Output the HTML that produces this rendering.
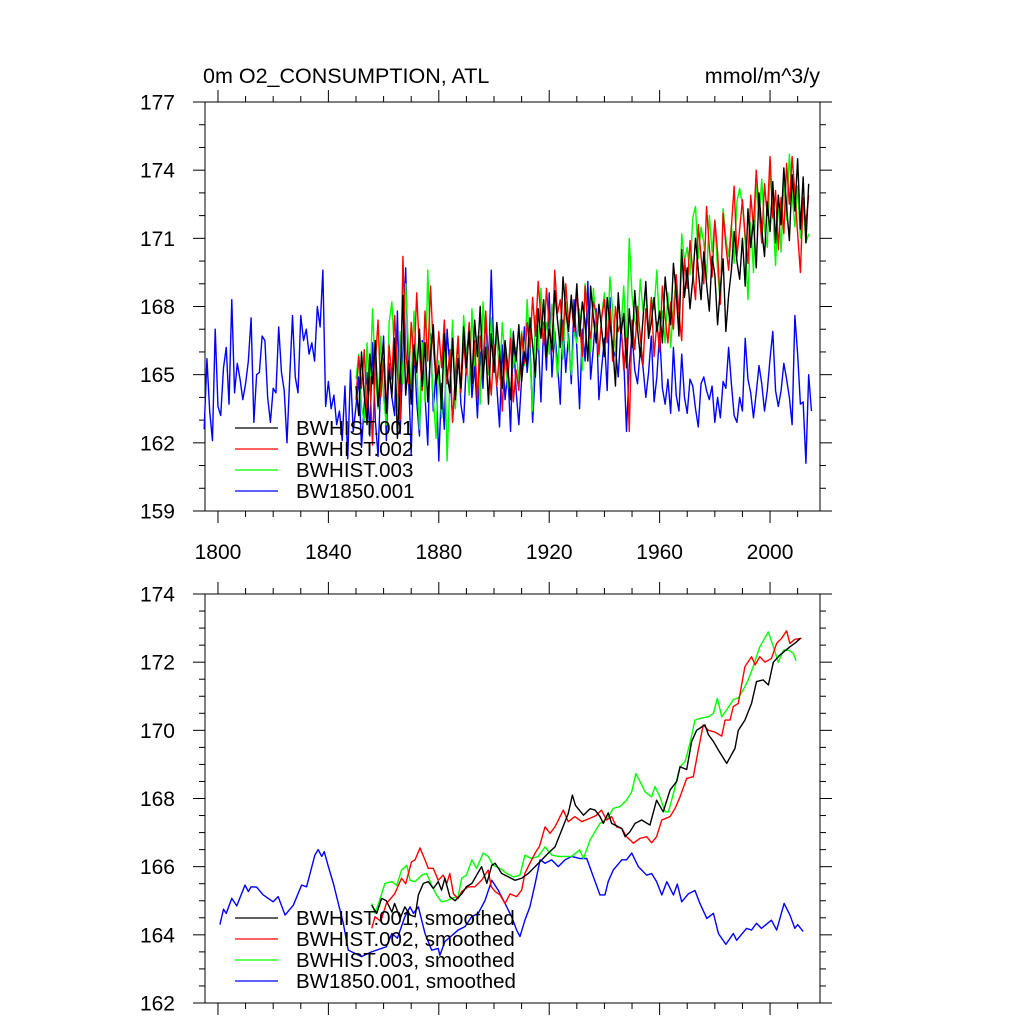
<!DOCTYPE html>
<html><head><meta charset="utf-8">
<style>
html,body{margin:0;padding:0;background:#fff;}
svg{display:block;font-family:"Liberation Sans",Arial,sans-serif;}
</style></head>
<body>
<svg id="chart" width="1024" height="1024" viewBox="0 0 1024 1024" xmlns="http://www.w3.org/2000/svg">
<rect width="1024" height="1024" fill="#fff"/>
<text x="203" y="83" font-size="21.5">0m O2_CONSUMPTION, ATL</text>
<text x="820" y="83" font-size="21.5" text-anchor="end">mmol/m^3/y</text>
<g id="top"></g>
<g id="bot"></g>
</svg>
<script>
// ---------- data ----------
const blueStart = 1795;
const blueRaw = [162.6,165.7,163.4,162.1,167.0,163.6,163.2,165.3,166.2,163.7,
168.3,164.2,165.5,164.8,163.9,164.6,165.6,167.5,162.9,165.0,
165.1,166.7,166.5,164.0,162.9,164.4,164.2,167.1,165.1,164.3,
162.0,164.9,167.6,164.9,164.2,167.6,166.5,167.0,165.9,166.4,
165.6,168.0,167.1,169.6,163.6,164.7,163.5,164.1,162.8,163.4,
162.1,164.5,161.3,165.2,162.5,163.6,164.9,161.8,163.7,165.1,
162.3,166.4,163.0,161.4,164.8,166.7,162.1,165.5,164.0,163.2,
167.8,162.4,165.9,169.7,165.0,161.5,166.2,163.8,162.3,166.5,
164.1,161.9,166.8,163.4,165.2,161.2,164.6,162.6,167.0,165.3,
163.0,164.8,166.4,163.7,162.9,165.6,167.2,164.0,165.4,163.1,
166.0,164.4,167.6,165.0,169.6,165.8,164.5,162.7,166.3,163.9,
165.2,162.5,166.9,164.3,162.8,164.8,167.1,165.1,166.5,162.9,
165.4,166.7,163.8,167.3,165.2,168.6,164.9,166.9,165.5,163.7,
167.4,165.1,166.8,164.6,168.3,166.2,163.5,167.0,165.6,169.1,
164.8,166.2,167.9,163.9,165.3,166.6,164.3,168.4,165.6,166.1,
164.9,167.0,165.7,162.5,165.4,166.8,165.2,164.6,166.1,165.3,
164.0,165.1,166.7,163.8,164.9,166.9,164.4,163.7,164.8,163.3,
166.2,164.1,163.4,165.9,164.0,163.3,164.8,164.5,163.5,162.7,
164.6,164.9,164.3,163.9,164.5,162.9,164.0,163.1,164.7,164.4,
166.2,164.6,163.2,162.9,164.0,163.4,166.6,164.8,164.2,163.1,
164.2,165.4,164.6,163.4,164.3,165.7,166.9,164.3,163.6,164.3,
165.5,164.8,164.0,162.8,167.6,165.9,163.7,163.8,161.1,165.0,
163.4];
const histStart = 1850;
const h001Raw = [164.5,163.2,166.0,164.1,162.8,165.9,164.6,166.5,163.6,165.3,
166.4,163.3,165.2,164.0,166.6,162.2,164.8,168.5,164.1,165.6,
163.7,166.3,165.1,167.0,164.5,166.4,163.8,165.9,167.2,164.6,
165.4,163.5,166.8,165.0,164.2,166.6,163.9,165.7,164.4,167.1,
165.3,166.9,164.6,167.4,165.8,168.0,164.9,166.2,163.7,166.8,
165.1,167.3,166.0,164.4,166.5,165.3,163.9,166.8,165.6,167.2,
164.7,166.0,165.4,167.5,166.3,164.9,167.9,166.6,168.3,165.8,
167.0,166.1,168.7,167.4,166.2,169.3,167.8,166.9,168.5,167.1,
169.0,166.7,168.2,167.3,165.6,168.9,167.5,166.4,168.1,167.0,
165.8,168.4,167.2,166.3,164.5,168.6,166.8,167.7,165.3,167.9,
166.2,168.7,167.0,165.8,167.5,169.1,166.6,167.3,168.4,166.9,
167.8,166.4,169.3,168.0,167.2,169.9,168.6,166.7,170.5,168.4,
169.7,167.9,169.2,171.0,169.6,168.3,170.4,169.0,167.8,170.2,
169.4,167.2,168.8,170.1,166.9,168.5,169.6,171.3,170.0,169.2,
171.0,168.9,172.3,170.6,171.8,169.7,173.0,171.4,170.2,172.6,
171.3,173.5,170.8,172.9,171.6,174.1,172.4,170.9,173.8,172.2,
174.5,171.4,173.7,170.8,173.4];
const h002Raw = [163.9,165.8,164.4,166.1,163.2,164.9,161.9,165.5,167.4,164.0,
165.7,163.4,166.3,164.8,167.6,165.2,163.0,170.2,166.1,164.6,
167.3,165.4,168.6,166.0,164.3,167.8,165.6,168.9,166.2,164.8,
166.9,165.3,167.4,164.6,166.1,162.9,165.0,166.7,164.2,166.4,
165.0,167.3,164.8,166.5,163.9,166.7,165.3,167.8,165.6,164.1,
166.3,164.5,165.9,163.4,166.0,164.9,166.6,163.8,165.2,164.3,
166.8,165.5,167.3,166.2,168.4,166.7,169.1,167.5,166.3,168.8,
167.2,166.0,169.6,167.7,168.3,166.5,169.0,167.3,168.2,166.9,
168.6,167.4,165.8,168.9,167.3,166.6,168.2,167.7,165.9,167.5,
168.3,166.4,167.9,165.6,168.0,166.9,167.3,165.2,166.6,162.5,
167.4,166.1,168.0,166.7,165.4,167.9,166.8,168.4,165.8,167.3,
166.0,168.9,167.5,166.4,168.2,167.0,169.4,167.7,166.5,170.1,
168.8,170.9,169.5,168.3,171.6,170.2,169.0,172.4,170.6,169.3,
171.8,170.4,168.1,172.1,170.7,169.6,171.5,173.3,170.2,171.4,
172.7,171.1,169.9,172.9,171.5,174.0,172.3,170.8,173.4,172.0,
174.6,171.9,173.1,170.5,172.8,171.2,174.3,172.5,174.6,173.0,
171.2,169.5,172.8,171.6,172.9];
const h003Raw = [164.8,165.9,163.6,162.9,166.4,164.3,167.9,165.0,163.5,166.7,
164.0,162.8,167.3,168.2,165.7,163.4,166.9,164.6,169.0,166.2,
164.5,167.8,165.3,162.6,166.4,163.8,169.6,166.1,164.0,162.2,
165.6,163.1,166.9,161.2,164.7,167.4,163.5,165.9,164.2,167.6,
165.8,164.1,167.9,165.4,166.7,163.7,168.2,166.3,165.0,167.5,
165.2,166.9,164.8,167.3,165.6,164.4,167.0,165.3,166.2,164.6,
166.9,165.4,168.3,165.8,163.4,167.6,166.1,168.8,166.5,167.3,
165.9,168.1,166.6,164.9,167.4,165.7,168.2,166.3,165.0,166.9,
166.4,167.9,165.2,169.0,167.5,166.0,168.8,167.2,165.8,167.6,
168.6,166.4,169.3,167.8,165.9,168.4,167.0,168.9,166.2,171.0,
168.5,167.4,166.9,169.2,167.8,168.6,166.6,168.4,167.9,169.6,
166.9,167.8,166.4,168.6,166.2,168.0,169.3,167.1,171.2,170.0,
170.6,169.4,171.9,172.4,170.1,171.5,170.8,169.2,172.0,170.4,
171.8,169.6,168.1,172.3,171.0,170.2,171.6,169.9,172.6,173.2,
172.5,170.9,168.3,171.7,169.5,173.4,172.0,173.6,171.4,170.6,
173.9,172.3,169.8,172.8,170.4,173.5,171.8,174.7,172.9,171.5,
173.3,171.0,172.6,170.8,171.2];

// smoothed series (year, value)
const sBlueYears = [1800.7,1802,1803,1805,1806.8,1809.8,1811,1812,1814,1816.4,1820,1821.8,1824.3,1827.3,1830.3,1832.1,1835.1,1836.3,1837.6,1838.5,1840,1841.8,1843.6,1845.4,1847.2,1852,1855.6,1861,1863,1865,1867.7,1869.6,1870.8,1872.6,1875,1877.4,1879.8,1880.4,1882.2,1887,1889.5,1891.9,1894.3,1896.7,1899.2,1901.6,1904,1906.4,1908.2,1909.4,1911.2,1913,1914.9,1916.7,1918.5,1920.9,1923.3,1925.7,1928.1,1931,1933.6,1936,1938.4,1940.2,1941.4,1943.2,1946.3,1948,1949.9,1952.3,1955.3,1957.1,1958.9,1960.8,1962.6,1965,1966.4,1968,1970.4,1972.8,1974.6,1977.1,1979.5,1981.3,1984,1986.7,1987.9,1991.5,1993.3,1995.1,1996.9,2000.5,2002.4,2005.1,2007.2,2009,2010,2012];
const sBlueVals = [164.3,164.75,164.63,165.07,164.85,165.46,165.27,165.41,165.4,165.17,164.97,165.12,164.58,164.87,165.46,165.41,166.34,166.5,166.3,166.44,166.0,165.51,164.92,164.34,163.55,163.36,163.5,163.65,164.04,163.9,164.53,164.82,164.63,164.82,164.04,163.55,163.6,163.4,163.8,164.14,164.24,164.53,164.63,165.0,165.6,165.3,164.92,164.53,164.14,163.95,164.43,164.82,165.5,166.2,166.1,166.2,166.0,166.2,166.3,166.24,166.24,165.7,165.17,165.17,165.57,165.9,166.2,166.2,166.4,166.0,165.75,165.8,165.56,165.17,165.56,165.17,165.49,164.97,165.2,165.3,164.92,164.48,164.63,164.04,163.72,164.04,163.84,164.19,164.14,164.34,164.19,164.43,164.14,164.92,164.58,164.19,164.3,164.1];
const s001Years = [1855.7,1857.5,1859.3,1861,1863,1864,1866,1867.7,1869.6,1871.4,1872.6,1874.4,1876.2,1878,1879.8,1881,1882.2,1884,1885.9,1888.3,1890,1892,1893.7,1895.5,1897.4,1899.2,1900.4,1902.8,1905.2,1907.6,1910,1912.4,1914.9,1917.3,1919.7,1922.1,1924.5,1926.9,1928.4,1929.5,1932.4,1934.8,1936.6,1938.4,1939.6,1941.4,1942.6,1946.3,1947.5,1949.3,1951.1,1953.5,1956.5,1958.9,1961.3,1963.8,1966.2,1967.4,1969.8,1971.6,1973.4,1976.4,1977.7,1979.5,1981.3,1984.3,1987.3,1988.5,1990.9,1993.3,1995.1,1997.5,1999.4,2001.2,2003.6,2007.2,2009.4,2011];
const s001Vals = [164.87,164.63,165.07,165.0,164.67,164.92,164.48,164.82,164.58,164.53,165.17,165.51,165.56,165.36,165.56,165.31,165.66,165.12,165.0,165.2,165.41,165.51,165.75,166.0,165.51,166.04,166.1,165.8,165.7,165.6,165.66,165.8,166.0,166.2,166.4,166.58,167.07,167.56,168.1,167.8,167.51,167.7,167.66,167.47,167.27,167.58,167.27,167.12,166.88,167.03,167.27,167.37,167.22,167.95,167.61,168.25,168.5,168.93,168.85,169.67,170.0,170.16,169.87,169.67,169.42,169.03,169.47,170.0,170.3,170.79,171.43,171.48,171.33,172.0,172.21,172.45,172.58,172.7];
const s002Years = [1855.7,1856.9,1859,1861,1864,1866.5,1868,1870.1,1871.4,1873.2,1875,1876.2,1878,1879.8,1881.6,1882.9,1884,1885.3,1887,1888.3,1890.7,1893.1,1895.5,1897.9,1899,1900.4,1902.2,1904,1905.8,1908.2,1910,1911.2,1913,1914.9,1916.5,1918.5,1920.3,1922.1,1925.1,1926.9,1929.3,1931.8,1934.8,1937,1938.9,1940.8,1942.6,1944.4,1946.3,1948,1950.5,1952.9,1955.3,1957.1,1958.9,1960.8,1963.8,1965.6,1967.4,1969.8,1972.2,1974,1975.8,1977.7,1980,1982.5,1983.7,1985.5,1986.7,1988.5,1990.9,1993.3,1994.6,1996.3,1998.2,2000.5,2002.4,2004.2,2006,2007.2,2009,2011.4];
const s002Vals = [164.19,164.53,164.4,164.92,165.2,165.66,165.5,166.14,166.2,166.55,166.2,165.95,165.95,165.6,165.75,165.51,165.8,165.2,165.07,165.27,165.41,165.41,165.6,165.9,165.41,165.27,165.17,164.92,165.2,165.12,165.31,165.8,166.1,166.4,166.6,167.17,166.98,167.17,167.66,167.32,167.47,167.32,167.42,167.5,167.66,167.37,167.47,167.17,167.12,166.88,166.69,166.83,166.88,166.7,166.88,167.37,167.47,167.71,168.05,168.59,168.64,169.42,170.16,170.0,169.95,169.83,170.3,170.3,170.7,170.79,171.87,172.16,171.92,172.16,172.0,172.11,172.55,172.7,172.92,172.55,172.67,172.7];
const s003Years = [1855.7,1856.9,1858.5,1860.5,1863,1864.8,1866.5,1868.4,1869.6,1871.4,1873.8,1875.6,1877.4,1879.2,1881,1882.8,1884.6,1887,1888.3,1890,1892,1893.7,1896.1,1897.9,1899.7,1902.2,1904.6,1907,1909.4,1911.2,1913.6,1916,1918.5,1920.9,1923.3,1925.7,1928.1,1931,1932.4,1934.8,1936.6,1938.4,1941,1943.2,1945.6,1948,1949.9,1951.4,1952.9,1954.7,1957.1,1958.3,1960.1,1962,1963.2,1965,1967.4,1969.2,1971,1972.8,1974.6,1977.7,1979.5,1980.9,1982.5,1984.3,1986.7,1988.5,1990.3,1992.1,1993.9,1996.3,1999.4,2001.2,2003,2004.9,2006.7,2008.5,2009.4];
const s003Vals = [164.92,164.63,165.0,165.51,165.56,165.45,165.9,166.04,165.6,165.56,165.75,165.8,165.46,165.17,164.97,165.0,165.07,165.12,165.66,165.75,166.2,165.95,166.4,166.3,166.04,165.95,165.8,165.7,165.75,166.34,166.24,166.3,166.58,166.34,166.3,166.3,166.3,166.49,166.24,166.78,167.03,167.27,167.4,167.71,167.76,167.95,168.2,168.73,168.5,168.2,168.05,168.35,168.05,167.61,167.61,168.15,168.93,169.08,169.62,170.3,170.35,170.4,170.5,170.94,170.4,170.6,170.9,170.95,171.19,171.48,171.87,172.45,172.89,172.45,172.0,172.35,172.35,172.26,172.04];

const topYTicks = [159,162,165,168,171,174,177];
const botYTicks = [162,164,166,168,170,172,174];
const xTicks = [1800,1840,1880,1920,1960,2000];
const legendTop = ["BWHIST.001","BWHIST.002","BWHIST.003","BW1850.001"];
const legendBot = ["BWHIST.001, smoothed","BWHIST.002, smoothed","BWHIST.003, smoothed","BW1850.001, smoothed"];
const colors = ["#000000","#ff0000","#00ff00","#0000ff"];

// ---------- drawing ----------
const NS = "http://www.w3.org/2000/svg";
const L = 205, R = 820;
const X0 = 1795.3, X1 = 2018.1;
function xs(yr){ return L + (yr - X0) / (X1 - X0) * (R - L); }
function mk(tag, attrs, parent){
  const e = document.createElementNS(NS, tag);
  for (const k in attrs) e.setAttribute(k, attrs[k]);
  parent.appendChild(e); return e;
}
function panel(g, top, bot, ymin, ymax, yTicks, minorStep, showXLabels){
  const ys = v => bot - (v - ymin) / (ymax - ymin) * (bot - top);
  const frame = mk("rect", {x:L, y:top, width:R-L, height:bot-top, fill:"none", stroke:"#000", "stroke-width":1}, g);
  
  
  for (let v = ymin; v <= ymax + 1e-6; v += minorStep){
    const isMajor = yTicks.some(t => Math.abs(t - v) < 1e-6);
    const len = isMajor ? 12 : 6;
    const y = ys(v);
    mk("line", {x1:L-len, y1:y, x2:L, y2:y, stroke:"#000"}, g);
    mk("line", {x1:R, y1:y, x2:R+len, y2:y, stroke:"#000"}, g);
  }
  yTicks.forEach(t => {
    const tx = mk("text", {x:175, y:ys(t)+7.5, "font-size":21, "text-anchor":"end"}, g);
    
    
    tx.textContent = t;
  });
  for (let yr = 1800; yr <= 2010; yr += 10){
    const isMajor = xTicks.includes(yr);
    const len = isMajor ? 12 : 6;
    const x = xs(yr);
    mk("line", {x1:x, y1:bot, x2:x, y2:bot+len, stroke:"#000"}, g);
    mk("line", {x1:x, y1:top-len, x2:x, y2:top, stroke:"#000"}, g);
  }
  if (showXLabels){
    xTicks.forEach(t => {
      const tx = mk("text", {x:xs(t), y:bot+48, "font-size":21, "text-anchor":"middle"}, g);
      
      
      tx.textContent = t;
    });
  }
  return ys;
}
function series(g, years, vals, ys, color, name){
  const pts = years.map((yr,i) => xs(yr).toFixed(2) + "," + ys(vals[i]).toFixed(2)).join(" ");
  const p = mk("polyline", {points:pts, fill:"none", stroke:color, "stroke-width":1.4, "stroke-linejoin":"round"}, g);
  
  
}
function legend(g, labels, y0){
  labels.forEach((lab,i) => {
    const y = y0 + i*21;
    const ln = mk("line", {x1:235, y1:y, x2:278, y2:y, stroke:colors[i], "stroke-width":1.3}, g);
    
    
    const t = mk("text", {x:296, y:y+7, "font-size":20.5}, g);
    
    
    t.textContent = lab;
  });
}
const yearsOf = (start, n) => Array.from({length:n}, (_, i) => start + i);

const gTop = document.getElementById("top");
const ysTop = panel(gTop, 102, 511, 159, 177, topYTicks, 1, true);
series(gTop, yearsOf(blueStart, blueRaw.length), blueRaw, ysTop, colors[3], "bw1850-001-line");
series(gTop, yearsOf(histStart, h003Raw.length), h003Raw, ysTop, colors[2], "bwhist-003-line");
series(gTop, yearsOf(histStart, h002Raw.length), h002Raw, ysTop, colors[1], "bwhist-002-line");
series(gTop, yearsOf(histStart, h001Raw.length), h001Raw, ysTop, colors[0], "bwhist-001-line");
legend(gTop, legendTop, 428);

const gBot = document.getElementById("bot");
const ysBot = panel(gBot, 594, 1003, 162, 174, botYTicks, 0.5, false);
series(gBot, sBlueYears, sBlueVals, ysBot, colors[3], "bw1850-001-smoothed-line");
series(gBot, s003Years, s003Vals, ysBot, colors[2], "bwhist-003-smoothed-line");
series(gBot, s002Years, s002Vals, ysBot, colors[1], "bwhist-002-smoothed-line");
series(gBot, s001Years, s001Vals, ysBot, colors[0], "bwhist-001-smoothed-line");
legend(gBot, legendBot, 918);
</script>
</body></html>
